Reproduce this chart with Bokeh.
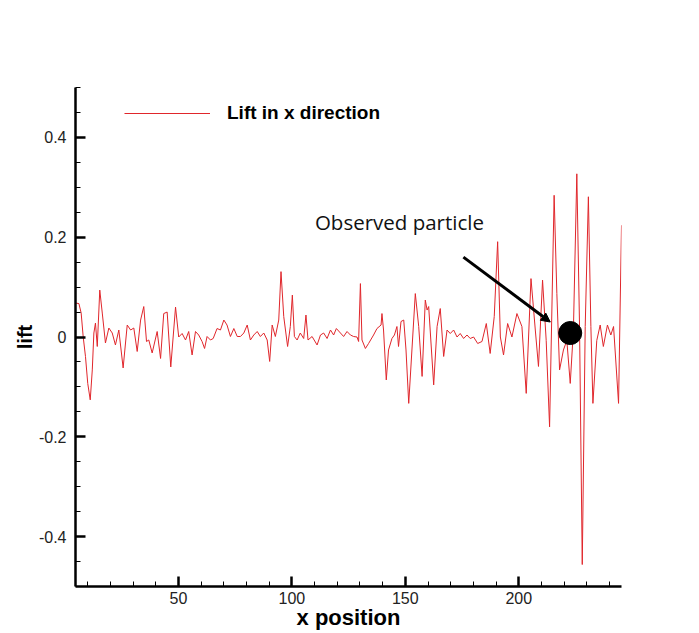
from bokeh.plotting import figure
from bokeh.models import (Range1d, FixedTicker, Legend, LegendItem, Arrow,
                          NormalHead, Label, ColumnDataSource)
from bokeh.embed import file_html
from bokeh.resources import INLINE

# ---------------- data ----------------
x_pos = [4.7, 6.1, 7.1, 8.0, 9.0, 10.0, 11.1, 12.0, 12.7, 13.4, 14.2, 15.3, 16.4,
         17.8, 19.3, 20.8, 22.2, 23.7, 25.6, 27.4, 28.9, 30.3, 31.8, 33.3, 34.7,
         35.9, 36.9, 38.4, 40.6, 42.1, 43.5, 45.0, 46.6, 48.7, 50.1, 51.6, 53.1,
         54.5, 56.0, 57.5, 58.9, 60.4, 61.5, 62.6, 64.1, 65.3, 67.0, 68.5, 70.0,
         71.4, 72.9, 74.4, 75.9, 77.3, 78.8, 80.3, 81.7, 83.2, 84.7, 86.1, 87.6,
         89.1, 90.2, 91.3, 92.7, 94.2, 95.2, 96.4, 98.1, 99.3, 100.2, 101.1, 102.3,
         103.7, 105.2, 106.2, 107.1, 108.9, 111.1, 112.6, 114.0, 115.5, 117.0,
         118.4, 119.6, 121.4, 122.8, 124.3, 125.8, 127.2, 128.7, 129.4, 130.2,
         130.9, 132.4, 133.8, 136.0, 137.5, 139.3, 139.7, 140.4, 141.6, 142.6,
         144.1, 145.2, 146.3, 147.0, 148.1, 149.3, 150.3, 151.5, 154.4, 155.9,
         157.4, 158.8, 159.6, 160.3, 162.5, 164.0, 165.4, 166.9, 168.4, 169.8,
         171.3, 172.8, 174.2, 175.7, 177.2, 178.6, 180.1, 181.9, 183.8, 185.7,
         187.4, 189.2, 190.7, 191.9, 193.3, 195.1, 197.0, 199.2, 201.4, 203.3,
         205.4, 207.3, 208.7, 210.5, 212.1, 213.6, 215.6, 216.8, 218.0, 219.7,
         221.2, 222.7, 224.1, 225.6, 226.8, 228.0, 229.3, 230.7, 231.8, 232.7,
         234.4, 235.9, 237.3, 239.1, 240.6, 241.8, 244.0, 245.3]
lift = [0.068, 0.067, 0.048, 0.0, -0.039, -0.093, -0.126, -0.066, 0.008, 0.028,
        -0.019, 0.094, 0.048, -0.012, 0.018, 0.008, -0.016, 0.014, -0.062, 0.024,
        0.014, 0.018, -0.029, 0.034, 0.061, -0.009, -0.006, -0.032, 0.011, -0.043,
        0.047, 0.05, -0.06, 0.06, 0.0, 0.007, -0.006, 0.011, -0.036, 0.011, 0.004,
        -0.009, -0.023, 0.001, -0.006, -0.003, 0.017, 0.014, 0.034, 0.024, 0.001,
        0.017, 0.001, 0.001, 0.008, 0.024, -0.006, 0.004, 0.011, 0.001, 0.008,
        -0.006, -0.049, 0.024, 0.001, 0.034, 0.131, 0.041, -0.019, 0.021, 0.084,
        0.001, -0.006, 0.008, -0.003, 0.044, -0.006, 0.001, -0.016, 0.004, 0.008,
        -0.003, 0.014, 0.004, 0.017, 0.008, 0.001, 0.011, 0.004, 0.001, 0.0,
        -0.009, 0.107, -0.006, -0.023, -0.013, 0.004, 0.017, 0.024, 0.047, 0.014,
        -0.086, -0.026, -0.003, 0.004, 0.021, -0.019, 0.031, 0.034, -0.026, -0.133,
        0.087, 0.021, -0.079, 0.074, 0.054, 0.061, -0.096, 0.021, 0.057, -0.039,
        0.014, 0.007, 0.014, 0.0, 0.007, -0.003, 0.004, -0.003, 0.0, -0.013,
        -0.009, 0.027, -0.033, 0.041, 0.191, 0.0, -0.036, 0.027, 0.0, 0.047,
        0.021, -0.113, 0.117, 0.014, -0.059, 0.114, -0.007, -0.18, 0.284, 0.087,
        -0.066, -0.026, -0.007, -0.093, 0.014, 0.327, 0.021, -0.456, 0.021, 0.281,
        0.021, -0.133, -0.007, 0.024, -0.019, 0.024, 0.004, 0.021, -0.133, 0.224]

particle_x = [222.7]
particle_y = [0.008]
note_text = "Observed particle"
note_x = [147.4]
note_y = [0.23]
arrow_start = [175.6, 0.16]
arrow_end = [213.9, 0.03]

x_major = [50, 100, 150, 200]
x_minor = [10, 20, 30, 40, 60, 70, 80, 90, 110, 120, 130, 140, 160, 170, 180,
           190, 210, 220, 230, 240]
y_major = [-0.4, -0.2, 0, 0.2, 0.4]
y_labels = ["-0.4", "-0.2", "0", "0.2", "0.4"]
y_minor = [-0.5, -0.45, -0.35, -0.3, -0.25, -0.15, -0.1, -0.05, 0.05, 0.1,
           0.15, 0.25, 0.3, 0.35, 0.45, 0.5]

# ---------------- figure ----------------
p = figure(width=699, height=633, output_backend="svg", toolbar_location=None,
           x_range=Range1d(4.6, 245.3), y_range=Range1d(-0.5, 0.5),
           min_border_left=75, min_border_right=78, min_border_top=87,
           min_border_bottom=47, outline_line_color=None,
           background_fill_color="white", border_fill_color="white")
p.grid.visible = False

src = ColumnDataSource(dict(x=x_pos, y=lift))
line_r = p.line("x", "y", source=src, line_color="#e0262b", line_width=1)

p.scatter(particle_x, particle_y, size=23, color="black")

p.add_layout(Arrow(end=NormalHead(size=9, fill_color="black", line_color="black"),
                   x_start=arrow_start[0], y_start=arrow_start[1],
                   x_end=arrow_end[0], y_end=arrow_end[1],
                   line_width=3, line_color="black"))

p.add_layout(Label(x=note_x[0], y=note_y[0], text=note_text,
                   text_font="Open Sans", text_font_size="20.5px",
                   text_align="center", text_baseline="middle",
                   text_color="#111111"))

for ax, major, minor in ((p.xaxis[0], x_major, x_minor), (p.yaxis[0], y_major, y_minor)):
    ax.ticker = FixedTicker(ticks=major, minor_ticks=minor)
    ax.axis_line_width = 2.5
    ax.axis_line_color = "black"
    ax.major_tick_line_width = 2.5
    ax.major_tick_line_color = "black"
    ax.minor_tick_line_width = 1
    ax.minor_tick_line_color = "black"
    ax.major_tick_in = 10
    ax.major_tick_out = 0
    ax.minor_tick_in = 5
    ax.minor_tick_out = 0
    ax.major_label_text_font = "Liberation Sans"
    ax.major_label_text_font_size = "16px"
    ax.major_label_text_color = "#222222"
    ax.axis_label_text_font = "Liberation Sans"
    ax.axis_label_text_font_style = "bold"
    ax.axis_label_text_color = "black"

p.yaxis[0].major_label_overrides = {v: s for v, s in zip(y_major, y_labels)}
p.yaxis[0].major_label_standoff = 9
p.yaxis[0].axis_label = "lift"
p.yaxis[0].axis_label_text_font_size = "20px"
p.yaxis[0].axis_label_standoff = 0

p.xaxis[0].major_label_standoff = 5
p.xaxis[0].axis_label = "x position"
p.xaxis[0].axis_label_text_font_size = "22px"
p.xaxis[0].axis_label_standoff = -2

legend = Legend(items=[LegendItem(label="Lift in x direction", renderers=[line_r])],
                location=(49, 462), glyph_width=86, glyph_height=20,
                label_height=20, label_standoff=17, padding=0, margin=0,
                border_line_color=None, background_fill_alpha=0,
                label_text_font="Liberation Sans", label_text_font_style="bold",
                label_text_font_size="19px", label_text_color="black")
p.add_layout(legend)

open("out.html", "w").write(file_html(p, INLINE))
